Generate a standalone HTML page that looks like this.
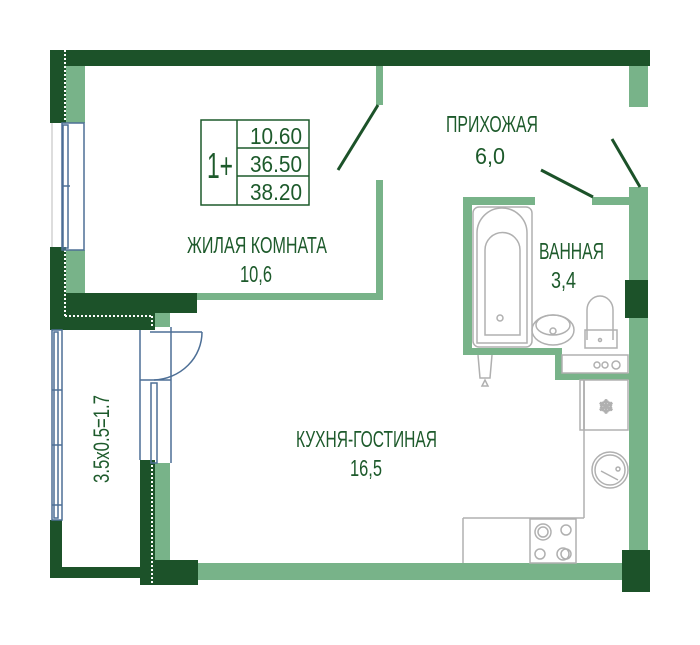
<!DOCTYPE html>
<html><head><meta charset="utf-8"><style>
html,body{margin:0;padding:0;background:#fff;}
svg{display:block;}
text{font-family:"Liberation Sans",sans-serif;fill:#1d5a2b;}
</style></head><body>
<svg width="700" height="645" viewBox="0 0 700 645" xmlns="http://www.w3.org/2000/svg">
<g fill="#78b389">
 <rect x="66" y="66" width="19" height="57"/>
 <rect x="66" y="250" width="19" height="45"/>
 <rect x="197" y="293" width="186" height="7"/>
 <rect x="376" y="66" width="7" height="39"/>
 <rect x="376" y="180" width="7" height="120"/>
 <rect x="152" y="313" width="18" height="14"/>
 <rect x="629" y="66" width="19" height="41"/>
 <rect x="629" y="187" width="19" height="375"/>
 <rect x="463" y="197" width="9" height="158"/>
 <rect x="463" y="197" width="72" height="8"/>
 <rect x="592" y="197" width="37" height="8"/>
 <rect x="463" y="348" width="99" height="7"/>
 <rect x="555" y="348" width="7" height="32"/>
 <rect x="555" y="373" width="74" height="7"/>
 <rect x="155" y="463" width="15" height="99"/>
 <rect x="198" y="563" width="427" height="17"/>
</g>
<g fill="#1c5229">
 <rect x="50" y="50" width="600" height="16"/>
 <rect x="50" y="50" width="16" height="73"/>
 <rect x="50" y="247" width="16" height="83"/>
 <rect x="66" y="293" width="131" height="20"/>
 <rect x="50" y="313" width="105" height="17"/>
 <rect x="625" y="280" width="23" height="38"/>
 <rect x="622" y="550" width="28" height="42"/>
 <rect x="50" y="520" width="12" height="58"/>
 <rect x="50" y="567" width="95" height="11"/>
 <rect x="140" y="460" width="15" height="125"/>
 <rect x="155" y="560" width="43" height="25"/>
</g>
<g stroke="#fff" stroke-width="2" stroke-dasharray="2 2" fill="none">
 <line x1="65" y1="50" x2="65" y2="122"/>
 <line x1="65" y1="250" x2="65" y2="316"/>
 <line x1="65" y1="316" x2="152" y2="316"/>
 <line x1="152" y1="316" x2="152" y2="327"/>
 <line x1="152" y1="465" x2="152" y2="585"/>
</g>
<g stroke="#1c5229" stroke-width="3">
 <line x1="378" y1="105" x2="338" y2="170"/>
 <line x1="612" y1="139" x2="640" y2="187"/>
 <line x1="541" y1="170" x2="593" y2="197"/>
</g>
<g stroke="#4d6f96" stroke-width="1.5" fill="none">
 <rect x="62" y="123" width="22" height="127"/>
 <rect x="63" y="125" width="5" height="123"/>
 <line x1="62" y1="186" x2="70" y2="186"/>
 <rect x="52" y="330" width="10" height="190"/>
 <rect x="54" y="332" width="4" height="186"/>
 <line x1="52" y1="390" x2="62" y2="390"/>
 <line x1="52" y1="445" x2="62" y2="445"/>
 <line x1="52" y1="505" x2="62" y2="505"/>
 <line x1="140" y1="330" x2="140" y2="460"/>
 <line x1="171" y1="327" x2="171" y2="463"/>
 <line x1="150" y1="332" x2="202" y2="332"/>
 <path d="M202 332 A50 48 0 0 1 154 380"/>
 <line x1="140" y1="380" x2="171" y2="380"/>
 <rect x="151" y="383" width="6" height="80"/>
</g>
<line x1="52" y1="123" x2="52" y2="247" stroke="#bbb" stroke-width="1"/>
<g stroke="#b0b0b0" stroke-width="1.5" fill="none">
 <rect x="473" y="207" width="59" height="140" rx="6"/>
 <path d="M477 343 V233 A25 25 0 0 1 527 233 V343 Z"/>
 <path d="M485 335 V250 A17 17 0 0 1 520 250 V335 Z"/>
 <circle cx="500" cy="318" r="3"/>
 <ellipse cx="553" cy="330" rx="21" ry="15"/>
 <ellipse cx="553" cy="325" rx="17" ry="10"/>
 <circle cx="553" cy="331" r="3"/>
 <path d="M587 340 V310 A13 14 0 0 1 613 310 V340"/>
 <rect x="585" y="330" width="32" height="18"/>
 <circle cx="600" cy="340" r="1.5"/>
 <rect x="562" y="355" width="66" height="18"/>
 <circle cx="597" cy="365" r="3"/><circle cx="605" cy="365" r="3"/><circle cx="616" cy="365" r="4"/>
 <path d="M478 355 L480 378 H490 L492 355"/>
 <path d="M482 386 L485 380 L488 386 Z"/>
 <line x1="584" y1="380" x2="584" y2="518"/>
 <rect x="580" y="380" width="4" height="50"/>
 <rect x="584" y="380" width="44" height="50"/>
 <text x="606" y="413" font-size="18" text-anchor="middle" style="fill:#aaa">❄</text>
 <circle cx="610" cy="470" r="18"/><circle cx="610" cy="470" r="15"/>
 <line x1="601" y1="471" x2="618" y2="480"/>
 <circle cx="618" cy="469" r="2"/>
 <line x1="463" y1="518" x2="584" y2="518"/>
 <line x1="463" y1="518" x2="463" y2="563"/>
 <rect x="530" y="519" width="46" height="44"/>
 <circle cx="543" cy="532" r="8"/><circle cx="543" cy="532" r="5"/>
 <circle cx="566" cy="530" r="5"/><circle cx="540" cy="554" r="5"/>
 <circle cx="563" cy="554" r="6"/><circle cx="566" cy="554" r="5"/>
</g>
<g fill="none" stroke="#1d5a2b" stroke-width="1.5">
 <rect x="201" y="120" width="108" height="85"/>
 <line x1="237" y1="120" x2="237" y2="205"/>
 <line x1="237" y1="148" x2="309" y2="148"/>
 <line x1="237" y1="176" x2="309" y2="176"/>
</g>
<text x="207" y="178" font-size="36" textLength="26" lengthAdjust="spacingAndGlyphs">1+</text>
<text x="250" y="144" font-size="23" textLength="52" lengthAdjust="spacingAndGlyphs">10.60</text>
<text x="250" y="172" font-size="23" textLength="52" lengthAdjust="spacingAndGlyphs">36.50</text>
<text x="250" y="200" font-size="23" textLength="52" lengthAdjust="spacingAndGlyphs">38.20</text>
<text x="187" y="253" font-size="23" textLength="140" lengthAdjust="spacingAndGlyphs">ЖИЛАЯ КОМНАТА</text>
<text x="240" y="282" font-size="23" textLength="32" lengthAdjust="spacingAndGlyphs">10,6</text>
<text x="446" y="132" font-size="23" textLength="92" lengthAdjust="spacingAndGlyphs">ПРИХОЖАЯ</text>
<text x="475" y="164" font-size="23" textLength="30" lengthAdjust="spacingAndGlyphs">6,0</text>
<text x="539" y="259" font-size="23" textLength="65" lengthAdjust="spacingAndGlyphs">ВАННАЯ</text>
<text x="551" y="288" font-size="23" textLength="25" lengthAdjust="spacingAndGlyphs">3,4</text>
<text x="296" y="447" font-size="23" textLength="141" lengthAdjust="spacingAndGlyphs">КУХНЯ-ГОСТИНАЯ</text>
<text x="350" y="476" font-size="23" textLength="32" lengthAdjust="spacingAndGlyphs">16,5</text>
<text transform="translate(109,483) rotate(-90)" font-size="22" textLength="88" lengthAdjust="spacingAndGlyphs">3.5x0.5=1.7</text>
</svg>
</body></html>
